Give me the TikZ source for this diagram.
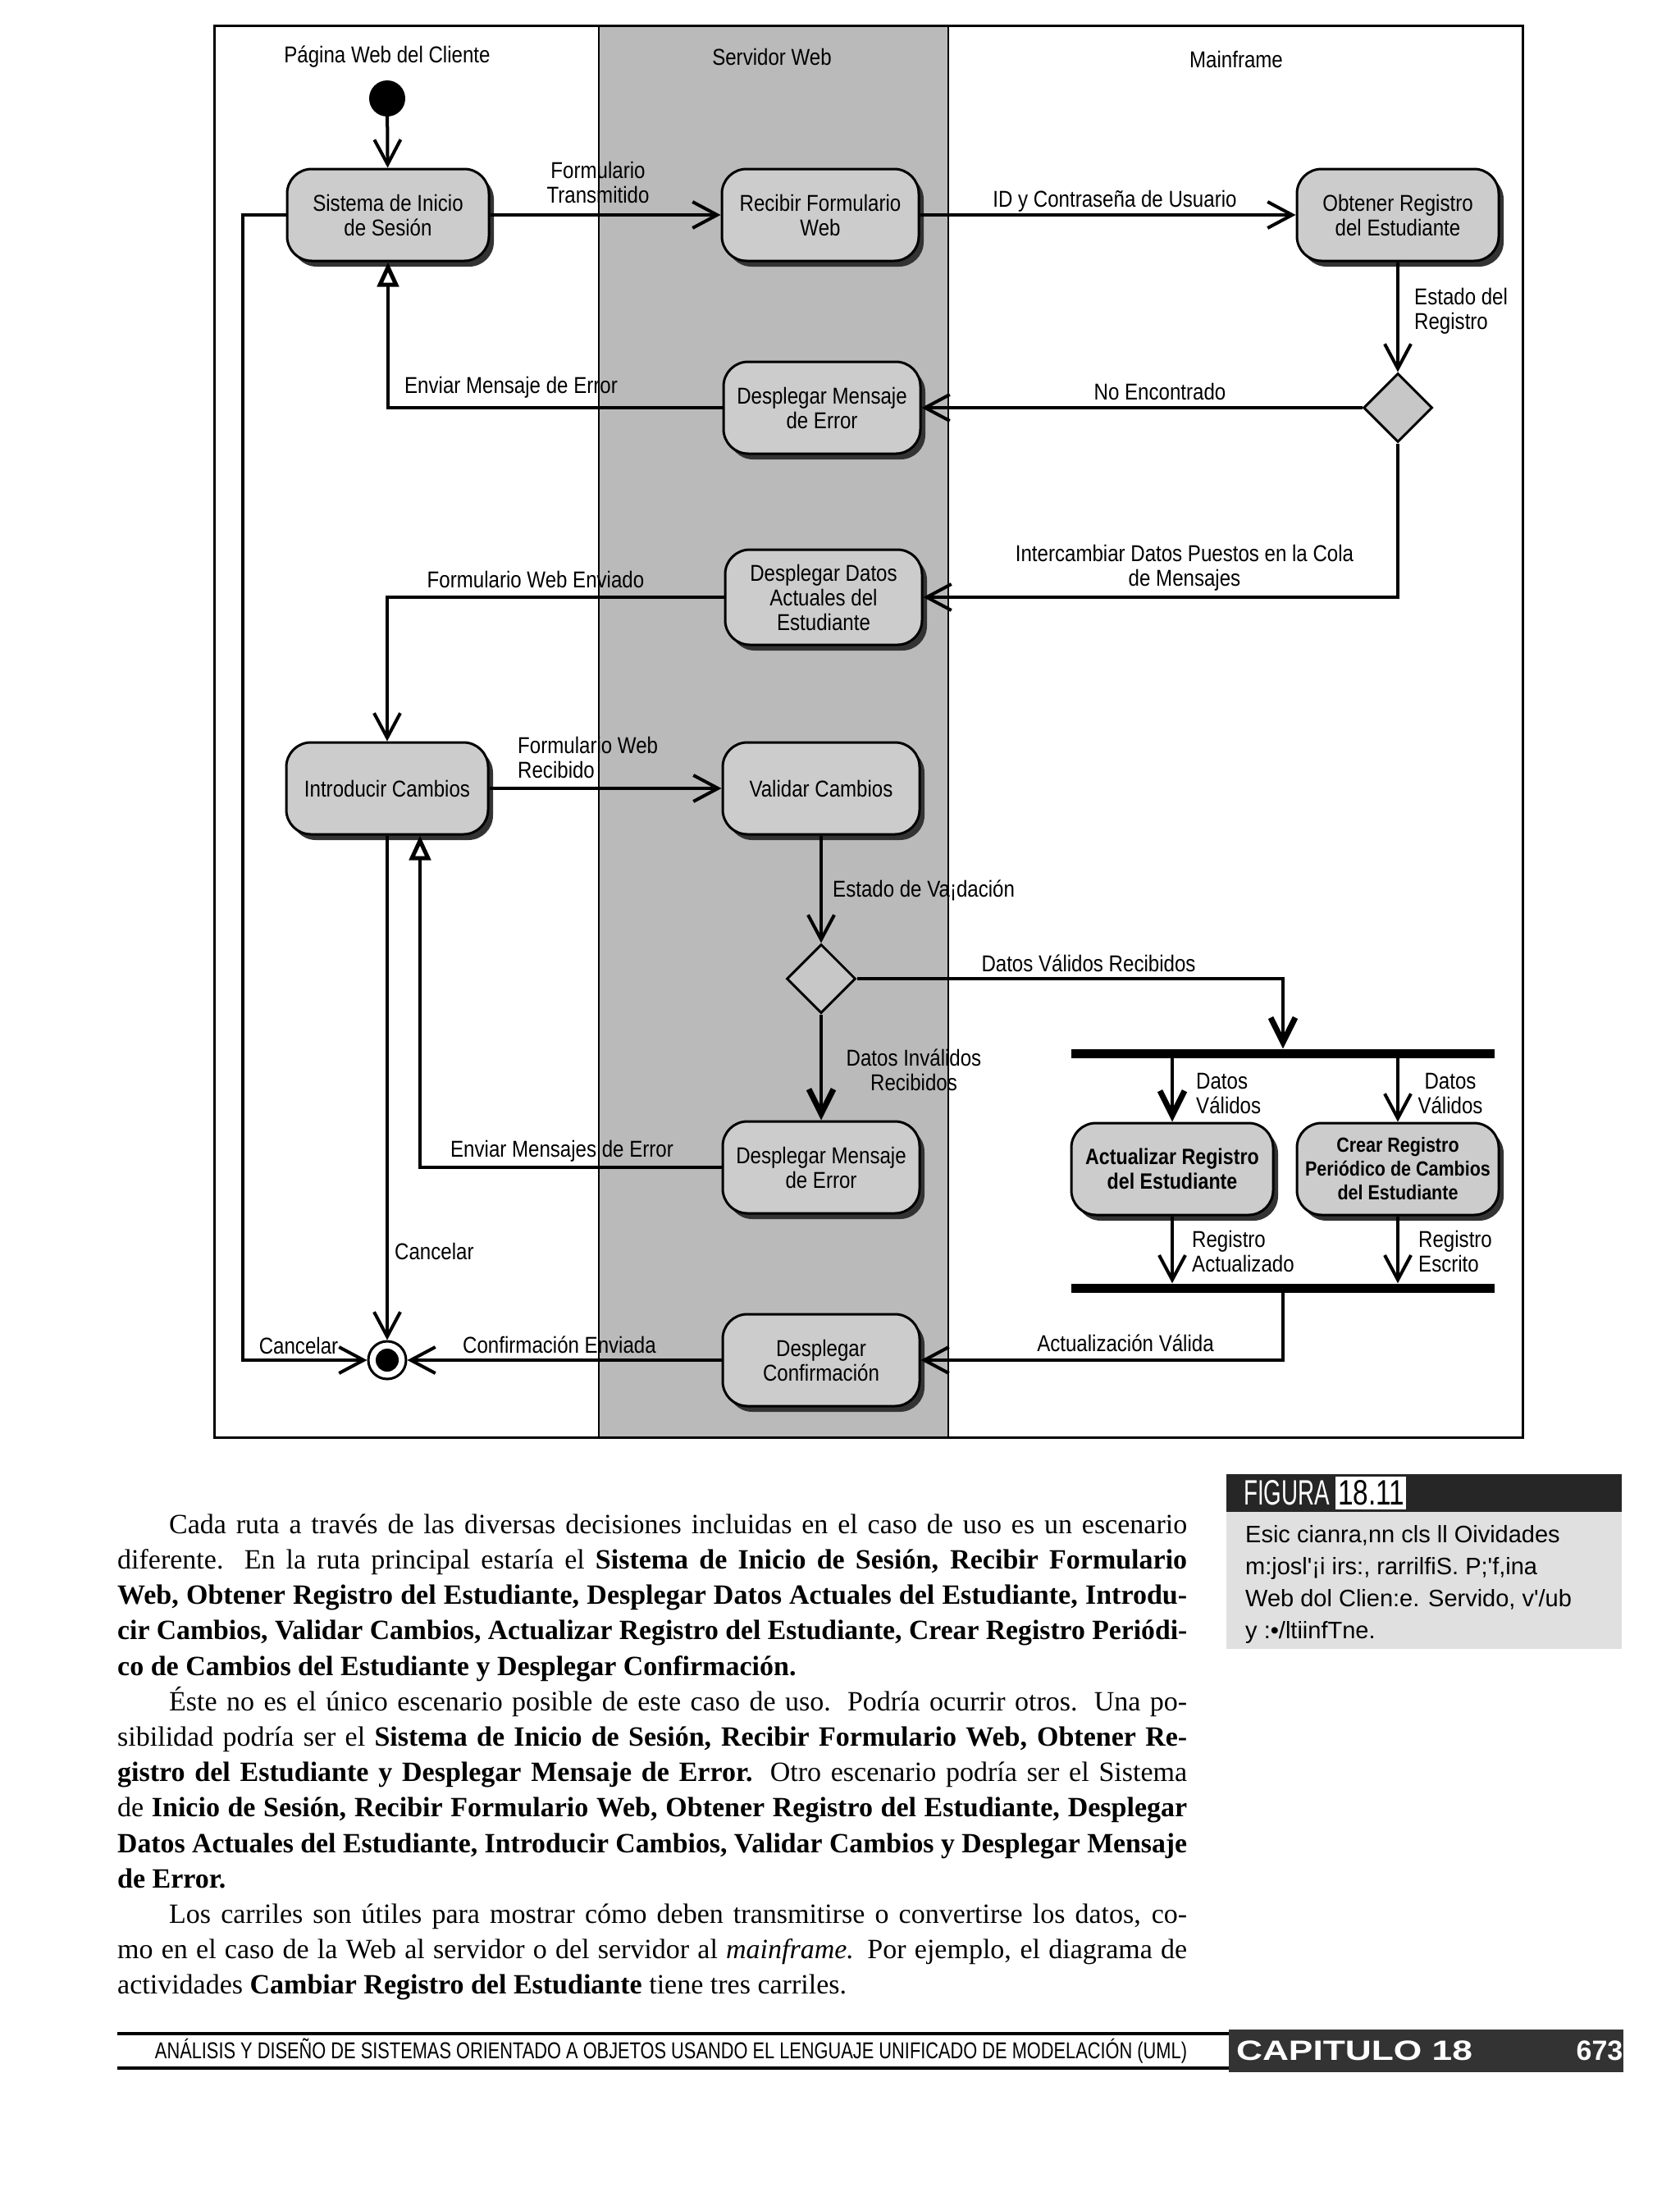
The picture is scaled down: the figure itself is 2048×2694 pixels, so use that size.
\documentclass[tikz,border=0pt]{standalone}
\usepackage{fontspec}
\usepackage{graphicx}
\setmainfont{Liberation Serif}
\newfontfamily\dfont[FakeStretch=0.86]{Liberation Sans}
\newfontfamily\capfont{Liberation Sans}
\usetikzlibrary{arrows.meta,shadows,shapes.geometric,calc}
\newsavebox\jbox
\newcommand\jline[2]{\sbox\jbox{#2}\ifdim\wd\jbox>#1\relax\resizebox{#1}{\height}{\usebox\jbox}\else\makebox[#1][s]{#2}\fi}
\tikzset{
  actbox/.style={draw, line width=3pt, rounded corners=30pt, fill=black!20,
    minimum width=240pt, minimum height=112pt, align=center, inner sep=4pt,
    font=\dfont\fontsize{28}{30}\selectfont,
    drop shadow={shadow xshift=6pt, shadow yshift=-7pt, fill=black!80, opacity=1}},
  lbl/.style={font=\dfont\fontsize{28}{30}\selectfont, inner sep=1pt, align=center},
  conn/.style={line width=4pt},
  oarr/.style={-{Straight Barb[length=30pt,width=32pt,line width=4pt]}},
  barr/.style={-{Straight Barb[length=30pt,width=30pt,line width=7pt]}},
  tarr/.style={-{Triangle[open,length=30pt,width=26pt,line width=5pt]}},
  decbox/.style={diamond, draw, line width=3pt, fill=black!22, minimum width=84pt, minimum height=84pt, inner sep=0pt},
  barbox/.style={rectangle, fill=black, minimum width=516pt, minimum height=11pt, inner sep=0pt},
  body/.style={anchor=base west, inner sep=0pt, font=\fontsize{34}{43}\selectfont},
  capline/.style={anchor=base west, inner sep=0pt, font=\capfont\fontsize{29}{32}\selectfont},
}
\begin{document}
\begin{tikzpicture}[x=1pt,y=-1pt]
\useasboundingbox (0,0) rectangle (2048,2694);
\fill[white] (0,0) rectangle (2048,2694);
% swimlanes
\fill[black!27] (730,31) rectangle (1156,1752);
\draw[line width=3pt] (261,31) rectangle (1856,1752);
\draw[line width=2.5pt] (730,31) -- (730,1752) (1156,31) -- (1156,1752);
\node[lbl] (t1) at (472,69) {Página Web del Cliente};
\node[lbl] (t2) at (941,69) {Servidor Web};
\node[lbl] (t3) at (1507,72) {Mainframe};
% nodes
\node[circle, fill=black, minimum size=44pt, inner sep=0pt] (nini) at (472,120) {};
\node[actbox, minimum width=246pt] (nsis) at (473,262) {Sistema de Inicio\\de Sesión};
\node[actbox] (nrec) at (1000,262) {Recibir Formulario\\Web};
\node[actbox, minimum width=246pt] (nobt) at (1704,262) {Obtener Registro\\del Estudiante};
\node[decbox] (nd1) at (1704,497) {};
\node[actbox] (nerr1) at (1002,497) {Desplegar Mensaje\\de Error};
\node[actbox, minimum height=116pt] (ndat) at (1004,728) {Desplegar Datos\\Actuales del\\Estudiante};
\node[actbox, minimum width=246pt] (nint) at (472,961) {Introducir Cambios};
\node[actbox] (nval) at (1001,961) {Validar Cambios};
\node[decbox] (nd2) at (1001,1193) {};
\node[actbox] (nerr2) at (1001,1423) {Desplegar Mensaje\\de Error};
\node[actbox] (nconf) at (1001,1658) {Desplegar\\Confirmación};
\node[circle, draw, line width=3pt, fill=white, minimum size=46pt, inner sep=0pt] (nfin) at (472,1658) {};
\fill (nfin.center) circle (14);
\node[barbox] (nfork) at (1564,1284) {};
\node[barbox] (njoin) at (1564,1570) {};
\node[actbox, minimum width=246pt, font=\dfont\bfseries\fontsize{27}{30}\selectfont] (nact) at (1429,1425) {Actualizar Registro\\del Estudiante};
\node[actbox, minimum width=246pt, inner sep=1pt, font=\dfont\bfseries\fontsize{25}{29}\selectfont] (ncre) at (1704,1425) {Crear Registro\\Periódico de Cambios\\del Estudiante};
% connectors
\coordinate (cl) at (296,1658);
\coordinate (ib) at ($(nint.south)+(40,0)$);
\draw[conn,oarr] (nini) -- (nsis);
\draw[conn,oarr] (nsis) -- (nrec);
\draw[conn,oarr] (nrec) -- (nobt);
\draw[conn,oarr] (nobt) -- (nd1);
\draw[conn,oarr] (nd1) -- (nerr1);
\draw[conn,tarr] (nerr1.west) -| (nsis.south);
\draw[conn,oarr] (nd1.south) |- (ndat.east);
\draw[conn,oarr] (ndat.west) -| (nint.north);
\draw[conn,oarr] (nint) -- (nval);
\draw[conn,oarr] (nval) -- (nd2);
\draw[conn,barr] (nd2.east) -| (nfork.north);
\draw[conn,barr] (nd2) -- (nerr2);
\draw[conn,tarr] (nerr2.west) -| (ib);
\draw[conn,oarr] (nint.south) -- (nfin);
\draw[conn,oarr] (nsis.west) -| (cl) -- (nfin);
\draw[conn,oarr] (nconf) -- (nfin);
\draw[conn,barr] (nact.north |- nfork.south) -- (nact.north);
\draw[conn,oarr] (ncre.north |- nfork.south) -- (ncre.north);
\draw[conn,oarr] (nact.south) -- (nact.south |- njoin.north);
\draw[conn,oarr] (ncre.south) -- (ncre.south |- njoin.north);
\draw[conn,oarr] (njoin.south) |- (nconf.east);
% connector labels
\node[lbl] (l1) at (729,222) {Formulario\\Transmitido};
\node[lbl] (l2) at (1359,245) {ID y Contraseña de Usuario};
\node[lbl, anchor=west, align=left] (l3) at (1723,379) {Estado del\\Registro};
\node[lbl] (l4) at (1414,477) {No Encontrado};
\node[lbl] (l5) at (623,472) {Enviar Mensaje de Error};
\node[lbl] (l6) at (1444,692) {Intercambiar Datos Puestos en la Cola\\de Mensajes};
\node[lbl] (l7) at (653,706) {Formulario Web Enviado};
\node[lbl, anchor=west, align=left] (l8) at (630,923) {Formulario Web\\Recibido};
\node[lbl, anchor=west] (l9) at (1014,1085) {Estado de Va¡dación};
\node[lbl] (l10) at (1327,1174) {Datos Válidos Recibidos};
\node[lbl] (l11) at (1114,1304) {Datos Inválidos\\Recibidos};
\node[lbl] (l12) at (685,1403) {Enviar Mensajes de Error};
\node[lbl, anchor=west] (l13) at (480,1525) {Cancelar};
\node[lbl] (l14) at (364,1640) {Cancelar};
\node[lbl] (l15) at (682,1639) {Confirmación Enviada};
\node[lbl, anchor=west, align=left] (l16) at (1457,1333) {Datos\\Válidos};
\node[lbl] (l17) at (1768,1333) {Datos\\Válidos};
\node[lbl, anchor=west, align=left] (l18) at (1452,1525) {Registro\\Actualizado};
\node[lbl, anchor=west, align=left] (l19) at (1728,1525) {Registro\\Escrito};
\node[lbl] (l20) at (1372,1637) {Actualización Válida};
% caption box
\fill[black!85] (1495,1797) rectangle (1977,1843);
\node[anchor=west, inner sep=0pt, text=white] (fig) at (1516,1820) {\resizebox{105pt}{30pt}{\capfont FIGURA}};
\fill[white] (1628,1800) rectangle (1714,1840);
\node[anchor=west, inner sep=0pt] (fignum) at (1631,1820) {\resizebox{81pt}{30pt}{\capfont 18.11}};
\fill[black!12] (1495,1843) rectangle (1977,2010);
\node[capline] (c1) at (1518,1880) {Esic cianra,nn cls ll Oividades};
\node[capline] (c2) at (1518,1919) {m:josl'¡i irs:, rarrilfiS. P;'f,ina};
\node[capline] (c3) at (1518,1958) {Web dol Clien:e. Servido, v'/ub};
\node[capline] (c4) at (1518,1997) {y :•/ltiinfTne.};
% body text
\node[body] (b1) at (206,1869) {\jline{1241pt}{Cada ruta a través de las diversas decisiones incluidas en el caso de uso es un escenario}};
\node[body] (b2) at (143,1912) {\jline{1304pt}{diferente. En la ruta principal estaría el \textbf{Sistema de Inicio de Sesión, Recibir Formulario}}};
\node[body] (b3) at (143,1955) {\jline{1304pt}{\textbf{Web, Obtener Registro del Estudiante, Desplegar Datos Actuales del Estudiante, Introdu-}}};
\node[body] (b4) at (143,1998) {\jline{1304pt}{\textbf{cir Cambios, Validar Cambios, Actualizar Registro del Estudiante, Crear Registro Periódi-}}};
\node[body] (b5) at (143,2042) {\textbf{co de Cambios del Estudiante y Desplegar Confirmación.}};
\node[body] (b6) at (206,2085) {\jline{1241pt}{Éste no es el único escenario posible de este caso de uso. Podría ocurrir otros. Una po-}};
\node[body] (b7) at (143,2128) {\jline{1304pt}{sibilidad podría ser el \textbf{Sistema de Inicio de Sesión, Recibir Formulario Web, Obtener Re-}}};
\node[body] (b8) at (143,2171) {\jline{1304pt}{\textbf{gistro del Estudiante y Desplegar Mensaje de Error.} Otro escenario podría ser el Sistema}};
\node[body] (b9) at (143,2214) {\jline{1304pt}{de \textbf{Inicio de Sesión, Recibir Formulario Web, Obtener Registro del Estudiante, Desplegar}}};
\node[body] (b10) at (143,2258) {\jline{1304pt}{\textbf{Datos Actuales del Estudiante, Introducir Cambios, Validar Cambios y Desplegar Mensaje}}};
\node[body] (b11) at (143,2301) {\textbf{de Error.}};
\node[body] (b12) at (206,2344) {\jline{1241pt}{Los carriles son útiles para mostrar cómo deben transmitirse o convertirse los datos, co-}};
\node[body] (b13) at (143,2387) {\jline{1304pt}{mo en el caso de la Web al servidor o del servidor al \textit{mainframe.} Por ejemplo, el diagrama de}};
\node[body] (b14) at (143,2430) {actividades \textbf{Cambiar Registro del Estudiante} tiene tres carriles.};
% footer
\draw[line width=4pt] (143,2479) -- (1498,2479);
\draw[line width=4pt] (143,2521) -- (1498,2521);
\fill[black!80] (1498,2474) rectangle (1979,2526);
\node[inner sep=0pt] (foot) at (818,2500) {\resizebox{1258pt}{\height}{\capfont\fontsize{28}{30}\selectfont ANÁLISIS Y DISEÑO DE SISTEMAS ORIENTADO A OBJETOS USANDO EL LENGUAJE UNIFICADO DE MODELACIÓN (UML)}};
\node[inner sep=0pt, text=white] (cap) at (1651,2500) {\resizebox{288pt}{\height}{\capfont\bfseries\fontsize{34}{36}\selectfont CAPITULO 18}};
\node[inner sep=0pt, text=white] (pg) at (1950,2500) {\capfont\bfseries\fontsize{34}{36}\selectfont 673};
\end{tikzpicture}
\end{document}
